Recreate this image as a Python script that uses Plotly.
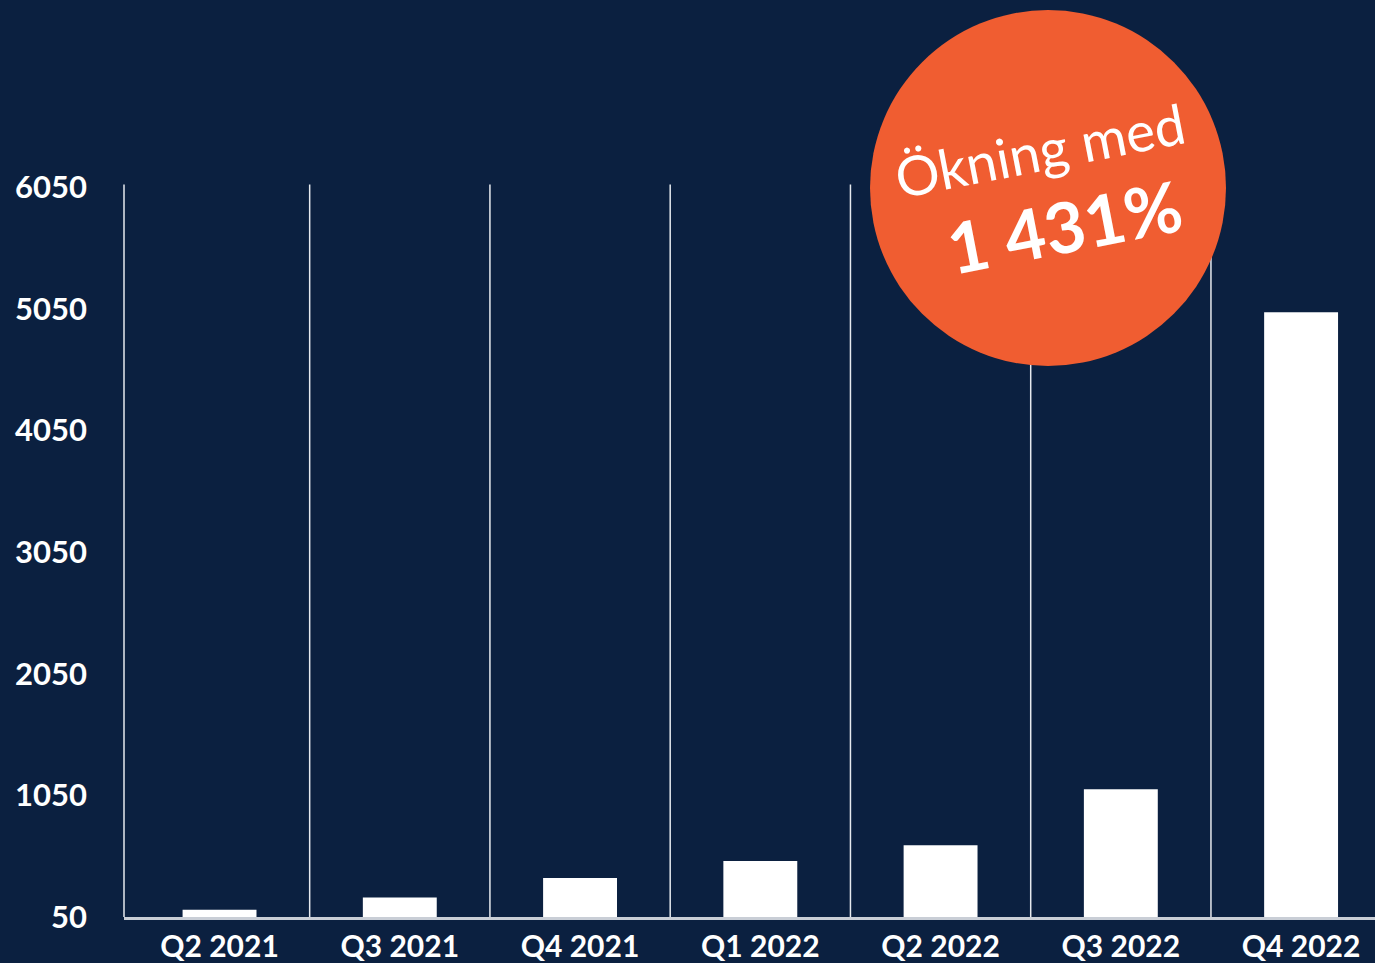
import plotly.graph_objects as go

categories = ["Q2 2021", "Q3 2021", "Q4 2021", "Q1 2022", "Q2 2022", "Q3 2022", "Q4 2022"]
values = [110, 210, 370, 510, 640, 1100, 5020]
tick_vals = [50, 1050, 2050, 3050, 4050, 5050, 6050]
badge_line1 = "Ökning med"
badge_line2 = "1 431%"

BG = "#0b2040"
ORANGE = "#f05d31"
W, H = 1375, 963
ML, MR, MT, MB = 124, 0, 20, 46
PW, PH = W - ML - MR, H - MT - MB

def px(x):
    return (x - ML) / PW

def py(y):
    return (H - MB - y) / PH

fig = go.Figure()
fig.add_trace(go.Bar(x=list(range(len(categories))), y=values, marker=dict(color="white", line=dict(width=0)),
                     width=0.41, hoverinfo="skip"))

shapes = []
for i in range(len(categories)):
    if i == 0:
        shapes.append(dict(type="line", xref="paper", yref="y", x0=0, x1=0, y0=50, y1=6070,
                           line=dict(color="#e6e9ee", width=1.5), layer="above"))
    else:
        shapes.append(dict(type="line", xref="x", yref="y", x0=i - 0.5, x1=i - 0.5, y0=50, y1=6070,
                           line=dict(color="#e6e9ee", width=1.5), layer="above"))
# badge circle
shapes.append(dict(type="circle", xref="paper", yref="paper", xsizemode="pixel", ysizemode="pixel",
                   xanchor=px(1048), yanchor=py(188), x0=-178, x1=178, y0=-178, y1=178,
                   fillcolor=ORANGE, line=dict(width=0), layer="above"))

annotations = [
    dict(xref="paper", yref="paper", x=px(1040), y=py(150), text=badge_line1, showarrow=False,
         textangle=-11, font=dict(family="Lato", size=55, color="white"), xanchor="center", yanchor="middle"),
    dict(xref="paper", yref="paper", x=px(1064), y=py(226), text="<b>" + badge_line2 + "</b>", showarrow=False,
         textangle=-11, font=dict(family="Lato", size=70, color="white", weight="bold"), xanchor="center", yanchor="middle"),
]

fig.update_layout(
    width=W, height=H,
    margin=dict(l=ML, r=MR, t=MT, b=MB, pad=0),
    paper_bgcolor=BG, plot_bgcolor=BG,
    showlegend=False,
    shapes=shapes,
    annotations=annotations,
    bargap=0.59,
)
fig.update_xaxes(
    range=[-0.53, 6.41],
    tickvals=list(range(len(categories))), ticktext=categories,
    showgrid=False, zeroline=False,
    showline=True, linecolor="#c9ced6", linewidth=3,
    ticks="", ticklabelstandoff=1,
    tickfont=dict(family="Lato", size=30, color="white", weight="bold"),
)
fig.update_yaxes(
    range=[50, 50 + PH / 0.12167],
    tickvals=tick_vals, ticktext=[str(v) for v in tick_vals],
    showgrid=False, zeroline=False, showline=False,
    ticks="", ticklabelstandoff=36,
    tickfont=dict(family="Lato", size=31, color="white", weight="bold"),
)

fig.write_html("out.html", config={"displayModeBar": False},
               post_script="document.body.style.margin='0';document.body.style.background='%s';document.body.style.overflow='hidden';" % BG)
